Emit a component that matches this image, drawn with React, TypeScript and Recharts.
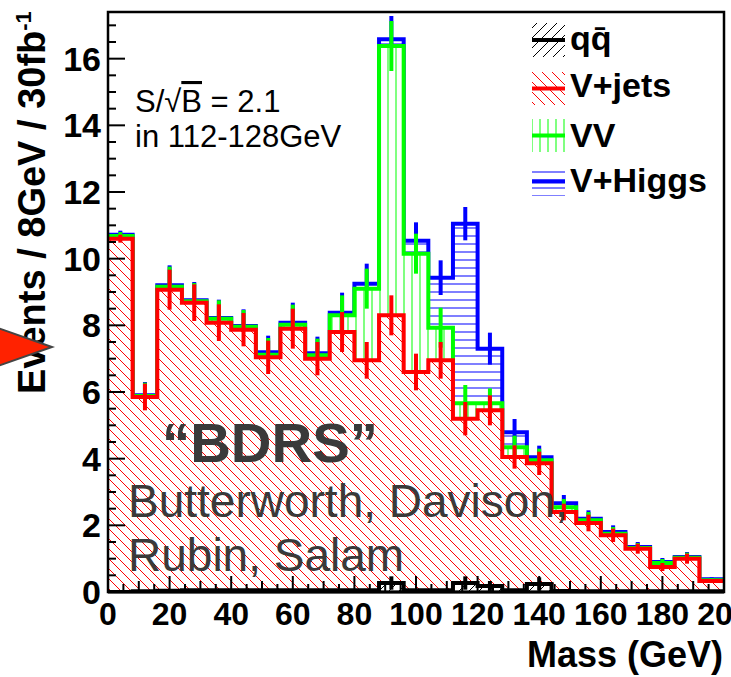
import { Area, ComposedChart, ErrorBar, Line, XAxis, YAxis } from "recharts";

// 8 GeV bins, 0-200 GeV
const binLow = [0, 8, 16, 24, 32, 40, 48, 56, 64, 72, 80, 88, 96, 104, 112, 120, 128, 136, 144, 152, 160, 168, 176, 184, 192];
const binEnd = 200;

// per-sample contributions (stacked bottom -> top)
const qqbar = [0.0, 0.02, 0.04, 0.05, 0.05, 0.05, 0.05, 0.05, 0.05, 0.05, 0.05, 0.27, 0.05, 0.05, 0.27, 0.18, 0.05, 0.24, 0.03, 0.02, 0.02, 0.02, 0.02, 0.02, 0.02];
const vjets = [10.6, 5.83, 9.03, 8.63, 8.03, 7.82, 6.99, 7.85, 6.95, 7.75, 6.9, 8.03, 6.55, 6.9, 4.93, 5.27, 4.0, 3.62, 2.37, 2.05, 1.68, 1.28, 0.73, 0.98, 0.31];
const vv = [0.08, 0.03, 0.09, 0.04, 0.12, 0.09, 0.08, 0.12, 0.1, 0.5, 2.15, 8.08, 3.55, 0.98, 0.46, 0.21, 0.29, 0.09, 0.14, 0.08, 0.05, 0.02, 0.12, 0.03, 0.02];
const vhiggs = [0.04, 0.02, 0.04, 0.03, 0.02, 0.02, 0.07, 0.06, 0.06, 0.08, 0.15, 0.2, 0.39, 1.5, 5.39, 1.64, 0.45, 0.09, 0.12, 0.05, 0.05, 0.03, 0.03, 0.02, 0.03];

// error bar half-heights, drawn at each cumulative top
const errQQ = [0.02, 0.02, 0.03, 0.03, 0.03, 0.03, 0.03, 0.03, 0.03, 0.03, 0.03, 0.2, 0.03, 0.03, 0.2, 0.15, 0.03, 0.2, 0.02, 0.02, 0.02, 0.02, 0.02, 0.02, 0.02];
const errVjets = [0.12, 0.4, 0.6, 0.55, 0.55, 0.5, 0.5, 0.6, 0.5, 0.6, 0.55, 0.6, 0.55, 0.55, 0.5, 0.45, 0.35, 0.35, 0.25, 0.25, 0.2, 0.15, 0.12, 0.15, 0.06];
const errVV = [0.12, 0.4, 0.6, 0.55, 0.55, 0.5, 0.5, 0.6, 0.5, 0.6, 0.6, 0.75, 0.6, 0.6, 0.55, 0.45, 0.35, 0.35, 0.25, 0.25, 0.2, 0.15, 0.12, 0.15, 0.06];
const errVH = [0.12, 0.4, 0.6, 0.55, 0.55, 0.5, 0.5, 0.6, 0.5, 0.6, 0.6, 0.7, 0.55, 0.52, 0.5, 0.48, 0.4, 0.35, 0.25, 0.25, 0.2, 0.15, 0.12, 0.15, 0.06];

const xMajor = [0, 20, 40, 60, 80, 100, 120, 140, 160, 180, 200];
const yMajor = [0, 2, 4, 6, 8, 10, 12, 14, 16];

const legendLabels = ["q\u0071\u0304", "V+jets", "VV", "V+Higgs"];

const FONT = "'Liberation Sans', Arial, Helvetica, sans-serif";
const PLOT = { left: 108, right: 724, top: 12, bottom: 592 };

const topQQ = qqbar;
const topVjets = topQQ.map((v, i) => v + vjets[i]);
const topVV = topVjets.map((v, i) => v + vv[i]);
const topVH = topVV.map((v, i) => v + vhiggs[i]);

const edges = [...binLow, binEnd];
const stepRows = edges.map((x, i) => {
  const b = Math.min(i, binLow.length - 1);
  return { x, qq: topQQ[b], vjets: topVjets[b], vv: topVV[b], vh: topVH[b] };
});

const errRows = (tops: number[], errs: number[]) =>
  binLow.map((lo, i) => ({ x: lo + 4, y: tops[i], e: errs[i] }));

const xTickVals = Array.from({ length: 41 }, (_, i) => i * 5);
const yTickVals = Array.from({ length: 35 }, (_, i) => i * 0.5);

function XTick(props: any) {
  const { x, payload } = props;
  const v = payload.value;
  const major = xMajor.includes(v);
  const len = major ? 16 : v % 10 === 0 ? 11 : 8;
  return (
    <g>
      <line x1={x} x2={x} y1={PLOT.bottom} y2={PLOT.bottom - len} stroke="#000" strokeWidth={2} />
      {major && (
        <text x={x} y={625} textAnchor="middle" fontFamily={FONT} fontWeight="bold" fontSize={32} fill="#000">
          {v}
        </text>
      )}
    </g>
  );
}

function YTick(props: any) {
  const { y, payload } = props;
  const v = payload.value;
  const major = yMajor.includes(v);
  const len = major ? 17 : 8;
  return (
    <g>
      <line x1={PLOT.left} x2={PLOT.left + len} y1={y} y2={y} stroke="#000" strokeWidth={2} />
      {major && (
        <text x={101} y={y + 12} textAnchor="end" fontFamily={FONT} fontWeight="bold" fontSize={34} fill="#000">
          {v}
        </text>
      )}
    </g>
  );
}

const Hatches = ({ p }: { p: string }) => (
  <defs>
    <pattern id={`${p}Red`} patternUnits="userSpaceOnUse" width={10} height={10}>
      <rect width={10} height={10} fill="#fff" />
      <path d="M0,0 L10,10 M-5,5 L5,15 M5,-5 L15,5" stroke="#ff0000" strokeWidth={1} />
    </pattern>
    <pattern id={`${p}Green`} patternUnits="userSpaceOnUse" width={8} height={8}>
      <rect width={8} height={8} fill="#fff" />
      <line x1={4} x2={4} y1={0} y2={8} stroke="#80ff80" strokeWidth={2} />
    </pattern>
    <pattern id={`${p}Blue`} patternUnits="userSpaceOnUse" width={8} height={8}>
      <rect width={8} height={8} fill="#fff" />
      <line x1={0} x2={8} y1={4} y2={4} stroke="#7f7fff" strokeWidth={2} />
    </pattern>
    <pattern id={`${p}Black`} patternUnits="userSpaceOnUse" width={10} height={10}>
      <rect width={10} height={10} fill="#fff" />
      <path d="M0,10 L10,0 M-5,5 L5,-5 M5,15 L15,5" stroke="#000" strokeWidth={1} />
    </pattern>
  </defs>
);

const series = [
  { key: "vh", color: "#0000ff", hatch: "Blue", tops: topVH, errs: errVH },
  { key: "vv", color: "#00ff00", hatch: "Green", tops: topVV, errs: errVV },
  { key: "vjets", color: "#ff0000", hatch: "Red", tops: topVjets, errs: errVjets },
  { key: "qq", color: "#000000", hatch: "Black", tops: topQQ, errs: errQQ },
];

const legendRows = [
  { hatch: "Black", color: "#000", y0: 23, y1: 57, base: 50 },
  { hatch: "Red", color: "#ff0000", y0: 72, y1: 105, base: 97 },
  { hatch: "Green", color: "#00ff00", y0: 119, y1: 152, base: 147 },
  { hatch: "Blue", color: "#0000ff", y0: 167, y1: 196, base: 192 },
];

export default function App() {
  return (
    <div style={{ position: "absolute", left: 0, top: 0, width: 731, height: 677, background: "#fff" }}>
      <ComposedChart width={731} height={677} data={stepRows} margin={{ top: 12, right: 7, left: 8, bottom: 25 }}>
        <Hatches p="h" />
        <XAxis
          type="number"
          dataKey="x"
          domain={[0, 200]}
          ticks={xTickVals}
          interval={0}
          tick={XTick}
          tickLine={false}
          axisLine={false}
          height={60}
          allowDataOverflow
        />
        <YAxis
          type="number"
          dataKey="y"
          domain={[0, 17.4]}
          ticks={yTickVals}
          interval={0}
          tick={YTick}
          tickLine={false}
          axisLine={false}
          width={100}
          allowDataOverflow
        />
        {series.flatMap((s, i) => [
          <Area
            key={`a-${s.key}`}
            type="stepAfter"
            dataKey={s.key}
            stroke={s.color}
            strokeWidth={4}
            strokeLinejoin="miter"
            fill={`url(#h${s.hatch})`}
            fillOpacity={1}
            dot={false}
            activeDot={false}
            isAnimationActive={false}
            zIndex={101 + i * 2}
          />,
          <Line
            key={`e-${s.key}`}
            data={errRows(s.tops, s.errs)}
            dataKey="y"
            stroke="none"
            dot={false}
            activeDot={false}
            isAnimationActive={false}
            zIndex={102 + i * 2}
          >
            <ErrorBar dataKey="e" direction="y" width={0} stroke={s.color} strokeWidth={4} zIndex={102 + i * 2} isAnimationActive={false} />
          </Line>,
        ])}
      </ComposedChart>

      <svg width={731} height={677} style={{ position: "absolute", left: 0, top: 0, pointerEvents: "none" }}>
        <Hatches p="lg" />
        <rect x={PLOT.left} y={PLOT.top} width={PLOT.right - PLOT.left} height={PLOT.bottom - PLOT.top} fill="none" stroke="#000" strokeWidth={2.5} />
        <line x1={PLOT.left} x2={PLOT.right} y1={PLOT.bottom} y2={PLOT.bottom} stroke="#000" strokeWidth={3} />

        <text x={135} y={112} fontFamily={FONT} fontSize={31} fill="#000">
          S/√<tspan style={{ textDecoration: "overline" }}>B</tspan> = 2.1
        </text>
        <text x={135} y={147} fontFamily={FONT} fontSize={31} fill="#000">in 112-128GeV</text>

        {legendRows.map((r, i) => (
          <g key={i}>
            <rect x={532} y={r.y0} width={33} height={r.y1 - r.y0} fill={`url(#lg${r.hatch})`} />
            <line x1={532} x2={565} y1={(r.y0 + r.y1) / 2} y2={(r.y0 + r.y1) / 2} stroke={r.color} strokeWidth={4} />
            <text x={570} y={r.base} fontFamily={FONT} fontWeight="bold" fontSize={34} fill="#000">
              {legendLabels[i]}
            </text>
          </g>
        ))}

        <text x={162} y={462} fontFamily={FONT} fontWeight="bold" fontSize={56} fill="#3a3a3a" textLength={216} lengthAdjust="spacingAndGlyphs">
          “BDRS”
        </text>
        <text x={128} y={517} fontFamily={FONT} fontSize={46} fill="#3a3a3a">Butterworth, Davison,</text>
        <text x={128} y={571} fontFamily={FONT} fontSize={46} fill="#3a3a3a">Rubin, Salam</text>

        <text x={723} y={667} textAnchor="end" fontFamily={FONT} fontWeight="bold" fontSize={36} fill="#000">Mass (GeV)</text>

        <text transform="translate(45,394) rotate(-90)" fontFamily={FONT} fontWeight="bold" fontSize={38} fill="#000">
          Events / 8GeV / 30fb<tspan dy={-14} fontSize={22}>-1</tspan>
        </text>

        <polygon points="-8,326 52,347 -8,368" fill="#ff2200" stroke="#444" strokeWidth={2} />
      </svg>
    </div>
  );
}
